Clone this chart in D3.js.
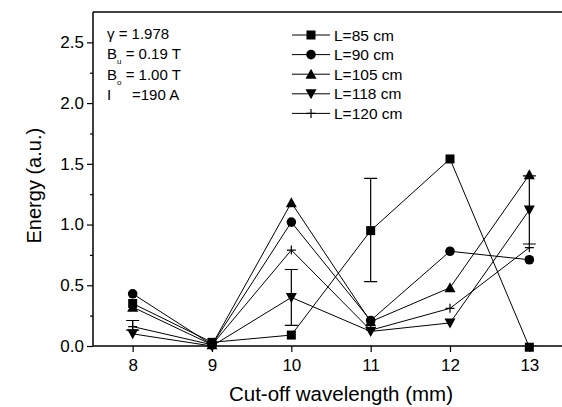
<!DOCTYPE html>
<html>
<head>
<meta charset="utf-8">
<script src="https://cdn.jsdelivr.net/npm/d3@7"></script>
<style>
  body { margin: 0; background: #fff; }
  svg { display: block; font-family: "Liberation Sans", Arial, sans-serif; }
</style>
</head>
<body>
<div id="chart"></div>
<script>
// cut-off wavelength (mm)
const wavelengths = [8, 9, 10, 11, 12, 13];

const seriesNames = ["L=85 cm", "L=90 cm", "L=105 cm", "L=118 cm", "L=120 cm"];
const symbols = ["square", "circle", "triangle", "triangleDown", "plus"];

const energyL85 = [0.35, 0.03, 0.09, 0.95, 1.54, -0.01];
const energyL90 = [0.43, 0.01, 1.02, 0.21, 0.78, 0.71];
const energyL105 = [0.32, 0.01, 1.18, 0.20, 0.48, 1.41];
const energyL118 = [0.10, 0.00, 0.40, 0.12, 0.19, 1.12];
const energyL120 = [0.16, 0.01, 0.79, 0.13, 0.31, 0.81];

// error bars: [series index, x, low, high]
const errorBars = [
  [4, 8, 0.13, 0.21],
  [3, 10, 0.17, 0.63],
  [0, 11, 0.53, 1.38],
  [3, 13, 0.84, 1.40]
];

const yTicks = [0, 0.5, 1.0, 1.5, 2.0, 2.5];
const paramLines = ["γ = 1.978", "B|u| = 0.19 T", "B|o| = 1.00 T", "I     =190 A"];

const allSeries = [energyL85, energyL90, energyL105, energyL118, energyL120];

const width = 562, height = 407;
const margin = {left: 93, top: 12, right: -7, bottom: 61};

const svg = d3.select("#chart").append("svg")
  .attr("width", width)
  .attr("height", height);

const x = d3.scaleLinear()
  .domain([7.5, 13.5])
  .range([margin.left, width - margin.right]);

const y = d3.scaleLinear()
  .domain([0, 2.75])
  .range([height - margin.bottom, margin.top]);

// frame top
svg.append("line")
  .attr("x1", x(7.5)).attr("x2", x(13.5))
  .attr("y1", y(2.75)).attr("y2", y(2.75))
  .attr("stroke", "#000").attr("stroke-width", 1.5);

// y axis
const yAxis = svg.append("g")
  .attr("transform", `translate(${x(7.5)},0)`)
  .call(d3.axisLeft(y).tickValues(yTicks).tickFormat(d3.format(".1f")).tickSize(6).tickPadding(3));
svg.append("g")
  .attr("transform", `translate(${x(7.5)},0)`)
  .call(d3.axisLeft(y).tickValues(d3.range(0.25, 2.75, 0.5)).tickFormat("").tickSize(3))
  .select(".domain").remove();

// x axis
const xAxis = svg.append("g")
  .attr("transform", `translate(0,${y(0)})`)
  .call(d3.axisBottom(x).tickValues(wavelengths).tickFormat(d3.format("d")).tickSize(6).tickPadding(7));

yAxis.select(".domain").remove();
xAxis.select(".domain").remove();
svg.append("line")
  .attr("x1", x(7.5)).attr("x2", x(7.5))
  .attr("y1", y(0)).attr("y2", y(2.75))
  .attr("stroke", "#000").attr("stroke-width", 1.5);
svg.append("line")
  .attr("x1", x(7.5)).attr("x2", x(13.5))
  .attr("y1", y(0)).attr("y2", y(0))
  .attr("stroke", "#000").attr("stroke-width", 1.5);

svg.selectAll(".tick line").attr("stroke-width", 1.2);
svg.selectAll(".tick text").attr("font-size", 17).attr("fill", "#000");

// axis titles
svg.append("text")
  .attr("x", x(10.5) + 10).attr("y", 401)
  .attr("text-anchor", "middle")
  .attr("font-size", 20.5)
  .text("Cut-off wavelength (mm)");
svg.append("text")
  .attr("transform", `translate(41,${y(1.32)}) rotate(-90)`)
  .attr("text-anchor", "middle")
  .attr("font-size", 20)
  .text("Energy (a.u.)");

// symbols
function drawSymbol(g, kind, cx, cy) {
  if (kind === "square") {
    g.append("rect").attr("x", cx - 4.5).attr("y", cy - 4.5).attr("width", 9).attr("height", 9).attr("fill", "#000");
  } else if (kind === "circle") {
    g.append("circle").attr("cx", cx).attr("cy", cy).attr("r", 4.8).attr("fill", "#000");
  } else if (kind === "triangle") {
    g.append("path").attr("d", `M${cx},${cy - 5.5}L${cx + 5.5},${cy + 4.5}L${cx - 5.5},${cy + 4.5}Z`).attr("fill", "#000");
  } else if (kind === "triangleDown") {
    g.append("path").attr("d", `M${cx},${cy + 5.5}L${cx + 5.5},${cy - 4.5}L${cx - 5.5},${cy - 4.5}Z`).attr("fill", "#000");
  } else {
    g.append("path").attr("d", `M${cx - 4.5},${cy}H${cx + 4.5}M${cx},${cy - 4.5}V${cy + 4.5}`)
      .attr("stroke", "#000").attr("stroke-width", 1.2).attr("fill", "none");
  }
}

const line = d3.line()
  .x((d, i) => x(wavelengths[i]))
  .y(d => y(d));

const plot = svg.append("g");

allSeries.forEach((vals, si) => {
  plot.append("path")
    .attr("d", line(vals))
    .attr("fill", "none")
    .attr("stroke", "#000")
    .attr("stroke-width", 1);
});

// error bars
errorBars.forEach(([si, xv, lo, hi]) => {
  const cx = x(xv);
  plot.append("path")
    .attr("d", `M${cx},${y(lo)}V${y(hi)}M${cx - 6.5},${y(lo)}H${cx + 6.5}M${cx - 6.5},${y(hi)}H${cx + 6.5}`)
    .attr("stroke", "#000").attr("stroke-width", 1.2).attr("fill", "none");
});

allSeries.forEach((vals, si) => {
  vals.forEach((v, i) => drawSymbol(plot, symbols[si], x(wavelengths[i]), y(v)));
});

// legend
const legend = svg.append("g");
seriesNames.forEach((name, i) => {
  const ly = 35 + i * 19.6;
  legend.append("line")
    .attr("x1", 292).attr("x2", 330).attr("y1", ly).attr("y2", ly)
    .attr("stroke", "#000").attr("stroke-width", 1);
  drawSymbol(legend, symbols[i], 311, ly);
  legend.append("text")
    .attr("x", 334).attr("y", ly + 5.5)
    .attr("font-size", 15.5)
    .text(name);
});

// parameters
paramLines.forEach((t, i) => {
  const ty = 39 + i * 20.3;
  const txt = svg.append("text").attr("x", 107).attr("y", ty)
    .attr("font-size", 15).style("white-space", "pre");
  const parts = t.split("|");
  if (parts.length === 3) {
    txt.append("tspan").text(parts[0]);
    txt.append("tspan").attr("font-size", 8).attr("dy", 5).text(parts[1]);
    txt.append("tspan").attr("dy", -5).text(parts[2]);
  } else {
    txt.text(t);
  }
});
</script>
</body>
</html>
